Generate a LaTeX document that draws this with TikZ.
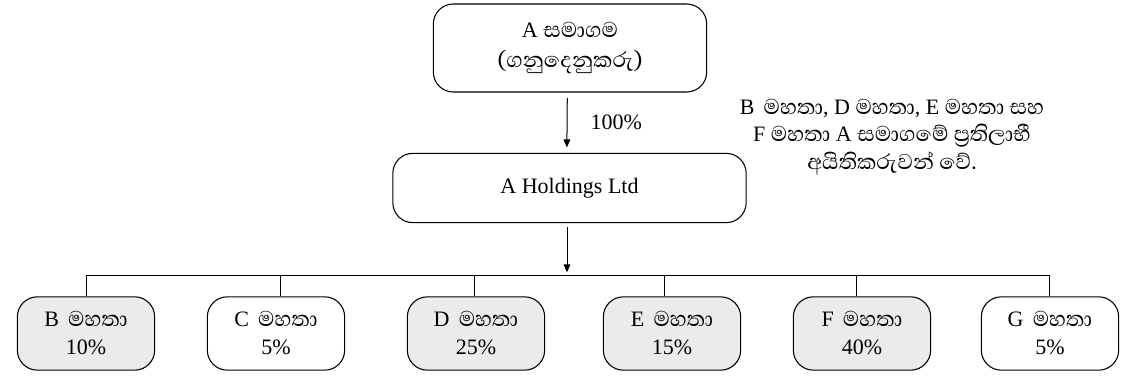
\documentclass[tikz,border=0pt]{standalone}
\usepackage{fontspec}
\setmainfont{Liberation Serif}
\newfontfamily\sinhala[Script=Sinhala,Scale=1.24]{Abhaya Libre}
\usetikzlibrary{arrows.meta,positioning}

\begin{document}
\begin{tikzpicture}[x=0.75pt,y=-0.75pt,
	font=\fontsize{16.5}{21}\selectfont,
	box/.style={draw,rounded corners=15pt,line width=0.8pt,align=center,inner sep=0pt},
	share/.style={box,minimum width=103pt,minimum height=55pt},
	held/.style={share,fill=black!8},
	arr/.style={-{Triangle[length=6pt,width=5pt]},line width=0.75pt}]
	\useasboundingbox (0,0) rectangle (1122,382);
	% company and holding
	\node[box,minimum width=205pt,minimum height=66pt,font=\fontsize{16.5}{22.5}\selectfont] (comp) at (570,48)
		{A {\sinhala සමාගම}\\ {\sinhala(ගනුදෙනුකරු)}};
	\node[box,minimum width=265pt,minimum height=52pt] (hold) at (569.5,188) {A Holdings Ltd};
	\coordinate (bar) at (567,275);
	\draw[arr,shorten <=4pt,shorten >=4pt] ([xshift=-2pt]comp.south) -- ([xshift=-2pt]hold.north)
		node[midway,right=14pt] (pct) {100\%};
	\draw[arr,shorten <=3pt,shorten >=2pt] (hold.south -| bar) -- (bar);
	% owners
	\node[held] (b) at (86,333.5) {B\, {\sinhala මහතා}\\ 10\%};
	\node[share] (c) at (276,333.5) {C\, {\sinhala මහතා}\\ 5\%};
	\node[held] (d) at (476,333.5) {D\, {\sinhala මහතා}\\ 25\%};
	\node[held] (e) at (672,333.5) {E\, {\sinhala මහතා}\\ 15\%};
	\node[held] (f) at (862,333.5) {F\, {\sinhala මහතා}\\ 40\%};
	\node[share] (g) at (1050,333.5) {G\, {\sinhala මහතා}\\ 5\%};
	\draw[line width=0.75pt] (b.north |- bar) -- ([xshift=-0.75pt]g.north |- bar);
	\foreach \n/\dx in {b/0,c/3,d/-1.5,e/-6,f/-4,g/-0.75}
		\draw[line width=0.75pt] ([xshift=\dx pt]\n.north) -- ([xshift=\dx pt]\n.north |- bar);
	% note
	\node[align=center,font=\fontsize{16.5}{20.5}\selectfont] (note) at (892,137)
		{B\, {\sinhala මහතා}, D {\sinhala මහතා}, E {\sinhala මහතා සහ}\\
		F {\sinhala මහතා} A {\sinhala සමාගමේ ප්^^^^200dරතිලාභී}\\
		{\sinhala අයිතිකරුවන් වේ.}};
\end{tikzpicture}
\end{document}
